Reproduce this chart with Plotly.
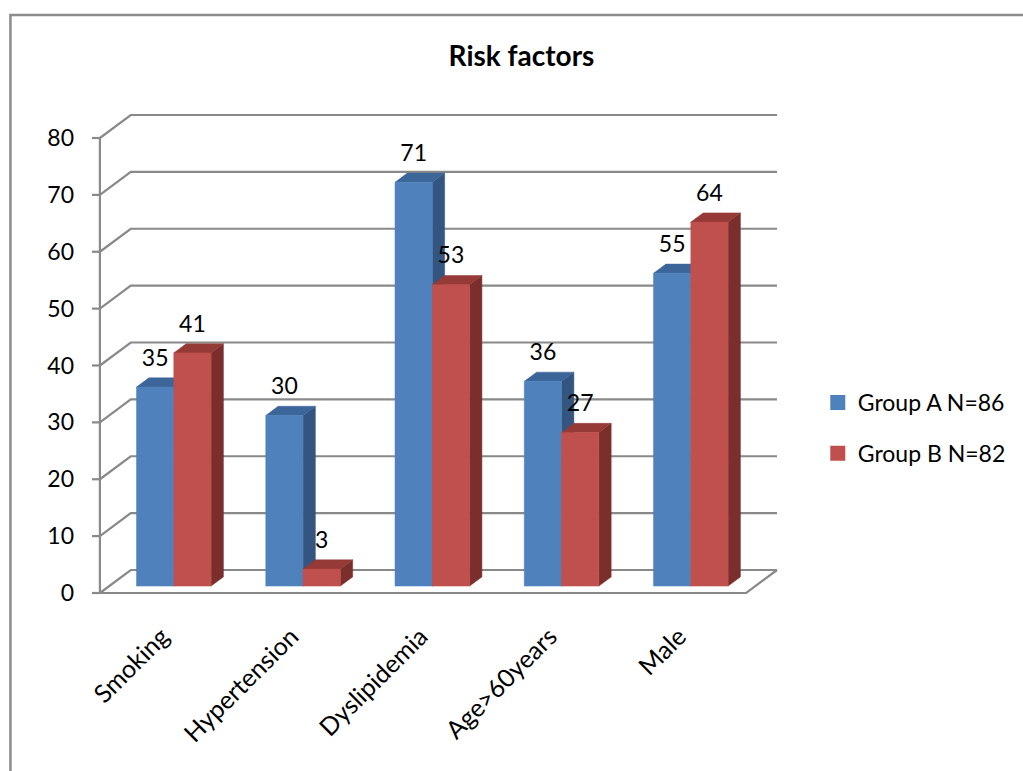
import plotly.graph_objects as go

# ---- data ----
categories = ["Smoking", "Hypertension", "Dyslipidemia", "Age>60years", "Male"]
group_a = [35, 30, 71, 36, 55]
group_b = [41, 3, 53, 27, 64]
series_names = ["Group A N=86", "Group B N=82"]
y_ticks = [0, 10, 20, 30, 40, 50, 60, 70, 80]

# ---- styling / geometry of the pseudo-3D box ----
FONT = "Lato"
SX = 130.0      # px per category on the x axis
SY = 5.6875     # px per value unit on the y axis
DX = 31 / SX    # depth offset of the back wall, x units
DY = 23 / SY    # depth offset of the back wall, y units
F0, F1 = 0.3, 0.7   # bar depth span as fraction of the floor depth
BAR_W = 37.5 / SX
LABEL_GAP = 27 / SY

ML, MR, MT, MB = 85, 240, 112, 171
W, H = 1023, 771
plot_w = W - ML - MR
plot_h = H - MT - MB
x_lo = -15 / SX
y_lo = -7 / SY

face = {
    0: dict(front="#4F81BD", side="#34557F", top="#3C6699"),
    1: dict(front="#C0504D", side="#7A2F2D", top="#953A37"),
}
grid_color = "#898989"

fig = go.Figure()

# grid: left diagonals, back-wall lines, ticks, front axis and floor edges
gx, gy = [], []
for v in y_ticks:
    gx += [0, DX, 5 + DX, None]
    gy += [v, v + DY, v + DY, None]
    gx += [-8 / SX, 0, None]
    gy += [v, v, None]
gx += [0, 0, None, 0, 5, 5 + DX, None]
gy += [0, y_ticks[-1], None, 0, 0, DY, None]
fig.add_trace(go.Scatter(x=gx, y=gy, mode="lines",
                         line=dict(color=grid_color, width=2.2),
                         hoverinfo="skip", showlegend=False))

series = [group_a, group_b]
base = F0 * DY
shift = F0 * DX
dd = F1 - F0

def front_left(i, j):
    return i + 0.5 - BAR_W + j * BAR_W + shift

for j, vals in enumerate(series):
    sx, sy, tx, ty, fx, fy = [], [], [], [], [], []
    for i, v in enumerate(vals):
        x0 = front_left(i, j)
        x1 = x0 + BAR_W
        yb, yt = base, base + v
        # side face
        sx += [x1, x1 + dd * DX, x1 + dd * DX, x1, x1, None]
        sy += [yb, yb + dd * DY, yt + dd * DY, yt, yb, None]
        # top face
        tx += [x0, x1, x1 + dd * DX, x0 + dd * DX, x0, None]
        ty += [yt, yt, yt + dd * DY, yt + dd * DY, yt, None]
        # front face
        fx += [x0, x1, x1, x0, x0, None]
        fy += [yb, yb, yt, yt, yb, None]
    c = face[j]
    for xs, ys, col in ((sx, sy, c["side"]), (tx, ty, c["top"]), (fx, fy, c["front"])):
        fig.add_trace(go.Scatter(x=xs, y=ys, mode="lines", fill="toself",
                                 fillcolor=col, line=dict(color=col, width=0.5),
                                 hoverinfo="skip", showlegend=False))

# value labels above each bar
for j, vals in enumerate(series):
    fig.add_trace(go.Scatter(
        x=[front_left(i, j) + BAR_W / 2 for i in range(len(vals))],
        y=[base + v + LABEL_GAP for v in vals],
        mode="text", text=[str(v) for v in vals],
        textposition="middle center",
        textfont=dict(family=FONT, size=23, color="#000000"),
        cliponaxis=False, hoverinfo="skip", showlegend=False))

# legend entries
for j, name in enumerate(series_names):
    fig.add_trace(go.Scatter(x=[None], y=[None], mode="markers", name=name,
                             legendgroup=name,
                             marker=dict(symbol="square", size=15,
                                         color=face[j]["front"])))

# outer chart frame
fig.add_shape(type="rect", xref="paper", yref="paper",
              x0=(10 - ML) / plot_w, x1=(W + 20 - ML) / plot_w,
              y0=(H - MB - H - 20) / plot_h, y1=(H - MB - 15) / plot_h,
              line=dict(color="#8C8C8C", width=2.5), fillcolor="rgba(0,0,0,0)")

fig.update_layout(
    width=W, height=H,
    margin=dict(l=ML, r=MR, t=MT, b=MB, pad=0),
    paper_bgcolor="white", plot_bgcolor="white",
    title=dict(text="<b>Risk factors</b>", x=(524 - ML) / plot_w, xref="paper",
               xanchor="center", y=1 - 56 / H, yanchor="middle",
               font=dict(family=FONT, size=28, color="#000000")),
    xaxis=dict(range=[x_lo, x_lo + plot_w / SX], showgrid=False, zeroline=False,
               showline=False, ticks="",
               tickvals=[i + 0.48 for i in range(len(categories))],
               ticktext=categories, tickangle=-45, ticklabelstandoff=16,
               tickfont=dict(family=FONT, size=25, color="#000000")),
    yaxis=dict(range=[y_lo, y_lo + plot_h / SY], showgrid=False, zeroline=False,
               showline=False, ticks="", tickvals=y_ticks,
               ticklabelstandoff=10,
               tickfont=dict(family=FONT, size=23, color="#000000")),
    legend=dict(x=(822 - ML) / plot_w, xanchor="left",
                y=(H - MB - 428) / plot_h, yanchor="middle",
                font=dict(family=FONT, size=23, color="#000000"),
                tracegroupgap=18, traceorder="grouped",
                bgcolor="rgba(0,0,0,0)"),
    showlegend=True,
)

fig.write_html("out.html")
